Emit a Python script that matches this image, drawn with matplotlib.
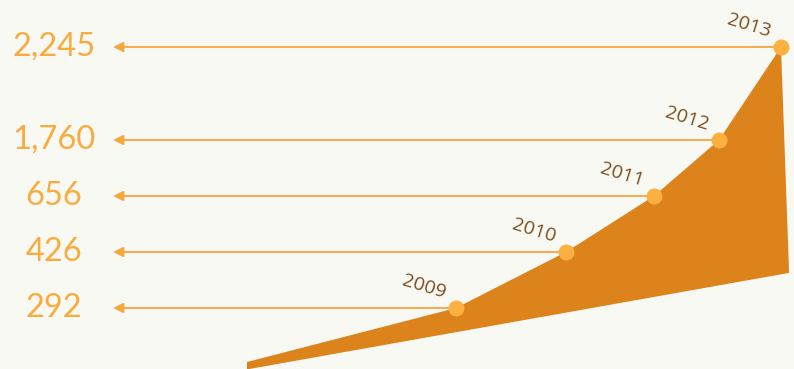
import matplotlib

matplotlib.use("Agg")

import matplotlib.pyplot as plt
import numpy as np

# data
YEARS = [2009, 2010, 2011, 2012, 2013]
USERS = [292, 426, 656, 1760, 2245]
VALUE_LABELS = ["292", "426", "656", "1,760", "2,245"]

# infographic-style axes: piecewise scales (layout only)
X_KNOTS_YEAR = [2007, 2008, 2009, 2010, 2011, 2012, 2013, 2014]
X_KNOTS_PX = [0, 247, 456, 566, 654, 719, 781, 808]
Y_KNOTS_VAL = [-200, 0, 292, 426, 656, 1760, 2245, 2600]
Y_KNOTS_PX = [-30, 7, 61, 117, 173, 229, 322, 390]

# decorative wedge: start/end of the base under the curve
SHAPE_START_YEAR = 2008
SHAPE_END_YEAR = 2013.3
BASE_LEFT = -40
BASE_RIGHT = 376

BG = "#F7F9F2"
FILL = "#DC831C"
DOT = "#FBB040"
LINE = "#F7A53E"
VALUE_COLOR = "#FAAB3F"
YEAR_COLOR = "#7C4E22"


def x_fwd(v):
    return np.interp(v, X_KNOTS_YEAR, X_KNOTS_PX)


def x_inv(p):
    return np.interp(p, X_KNOTS_PX, X_KNOTS_YEAR)


def y_fwd(v):
    return np.interp(v, Y_KNOTS_VAL, Y_KNOTS_PX)


def y_inv(p):
    return np.interp(p, Y_KNOTS_PX, Y_KNOTS_VAL)


fig = plt.figure(figsize=(7.94, 3.69), dpi=100, facecolor=BG)
ax = fig.add_axes([0, 0, 1, 1], facecolor=BG)
ax.set_xscale("function", functions=(x_fwd, x_inv))
ax.set_yscale("function", functions=(y_fwd, y_inv))
ax.set_xlim(float(x_inv(0)), float(x_inv(794)))
ax.set_ylim(float(y_inv(0)), float(y_inv(369)))
ax.axis("off")

# orange wedge
shape_x = [SHAPE_START_YEAR] + YEARS + [SHAPE_END_YEAR, SHAPE_START_YEAR]
shape_y = [0] + USERS + [BASE_RIGHT, BASE_LEFT]
ax.fill(shape_x, shape_y, color=FILL, lw=0, zorder=1)

# leader arrows and value labels
for year, value, label in zip(YEARS, USERS, VALUE_LABELS):
    ax.annotate(
        "",
        xy=(0.1425, value),
        xycoords=("axes fraction", "data"),
        xytext=(year, value),
        textcoords="data",
        arrowprops=dict(
            arrowstyle="-|>,head_length=0.6,head_width=0.3",
            color=LINE,
            lw=1.3,
            shrinkA=0,
            shrinkB=0,
        ),
        zorder=2,
    )
    ax.text(
        0.068, value, label,
        transform=ax.get_yaxis_transform(),
        ha="center", va="center",
        fontsize=23.5, color=VALUE_COLOR, family="Lato",
    )
    ax.annotate(
        str(year),
        xy=(year, value),
        xytext=(-32, 21),
        textcoords="offset pixels",
        ha="center", va="center",
        rotation=-17,
        fontsize=14, color=YEAR_COLOR,
        family="Open Sans",
    )

ax.plot(YEARS, USERS, "o", ms=11.5, color=DOT, mec="none", zorder=3)

fig.savefig("out.png", dpi=100, facecolor=BG)
